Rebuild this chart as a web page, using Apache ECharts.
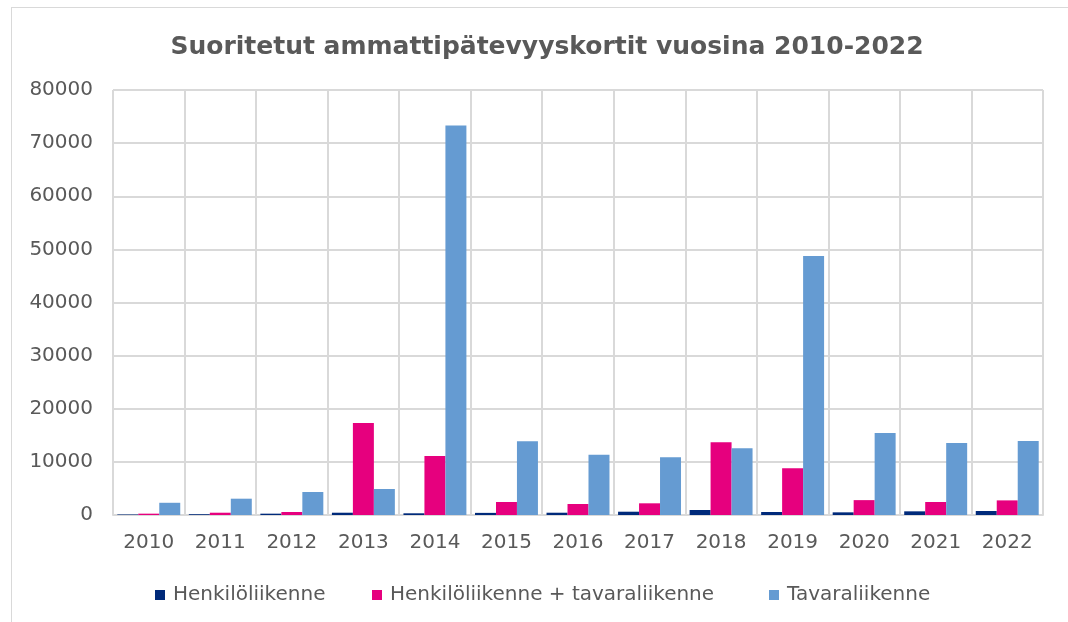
<!DOCTYPE html>
<html>
<head>
<meta charset="utf-8">
<script src="https://cdn.jsdelivr.net/npm/echarts@6/dist/echarts.min.js"></script>
<style>
  html, body { margin: 0; padding: 0; background: #fff; overflow: hidden; }
  #frame { position: absolute; left: 11px; top: 7px; width: 1100px; height: 700px; border: 1px solid #d9d9d9; }
  #chart { width: 1068px; height: 622px; position: absolute; left: 0; top: 0; }
</style>
</head>
<body>
<div id="frame"></div>
<div id="chart"></div>
<script>
const years = ['2010', '2011', '2012', '2013', '2014', '2015', '2016', '2017', '2018', '2019', '2020', '2021', '2022']
const henkilo = [100, 150, 250, 430, 320, 400, 430, 620, 940, 560, 500, 690, 750]
const henkiloTavara = [250, 430, 560, 17300, 11100, 2450, 2070, 2200, 13700, 8800, 2800, 2450, 2750]
const tavara = [2300, 3070, 4330, 4900, 73300, 13870, 11350, 10860, 12550, 48750, 15430, 13550, 13930]
const seriesNames = ['Henkilöliikenne', 'Henkilöliikenne + tavaraliikenne', 'Tavaraliikenne']

const chart = echarts.init(document.getElementById('chart'))
const textColor = '#595959'
const font = 'DejaVu Sans'

// Excel places the legend entries unevenly, so one legend per entry
const legendLeft = [150, 367, 764]
const legends = seriesNames.map((name, i) => ({
  left: legendLeft[i],
  top: 580,
  itemWidth: 10,
  itemHeight: 10,
  icon: 'rect',
  textStyle: { color: textColor, fontFamily: font, fontSize: 20, lineHeight: 20, padding: [0, 0, 0, 3] },
  data: [name]
}))

chart.setOption({
  animation: false,
  title: {
    text: 'Suoritetut ammattipätevyyskortit vuosina 2010-2022',
    left: 542,
    top: 30,
    textAlign: 'center',
    textStyle: { color: textColor, fontFamily: font, fontWeight: 'bold', fontSize: 25 }
  },
  legend: legends,
  grid: { left: 113, right: 25, top: 90, bottom: 107 },
  xAxis: {
    type: 'category',
    data: years,
    axisLine: { lineStyle: { color: '#d9d9d9', width: 2 } },
    axisTick: { show: false },
    axisLabel: { color: textColor, fontFamily: font, fontSize: 20, margin: 18 },
    splitLine: { show: true, lineStyle: { color: '#d9d9d9', width: 2 } }
  },
  yAxis: {
    type: 'value',
    min: 0,
    max: 80000,
    interval: 10000,
    axisLine: { show: false },
    axisTick: { show: false },
    axisLabel: { color: textColor, fontFamily: font, fontSize: 20, margin: 20, formatter: v => String(v) },
    splitLine: { lineStyle: { color: '#d9d9d9', width: 2 } }
  },
  series: [
    {
      name: seriesNames[0],
      type: 'bar',
      barGap: '0%',
      barCategoryGap: '12%',
      itemStyle: { color: '#002a7a' },
      data: henkilo
    },
    {
      name: seriesNames[1],
      type: 'bar',
      itemStyle: { color: '#e6007e' },
      data: henkiloTavara
    },
    {
      name: seriesNames[2],
      type: 'bar',
      itemStyle: { color: '#659bd2' },
      data: tavara
    }
  ]
})
</script>
</body>
</html>
